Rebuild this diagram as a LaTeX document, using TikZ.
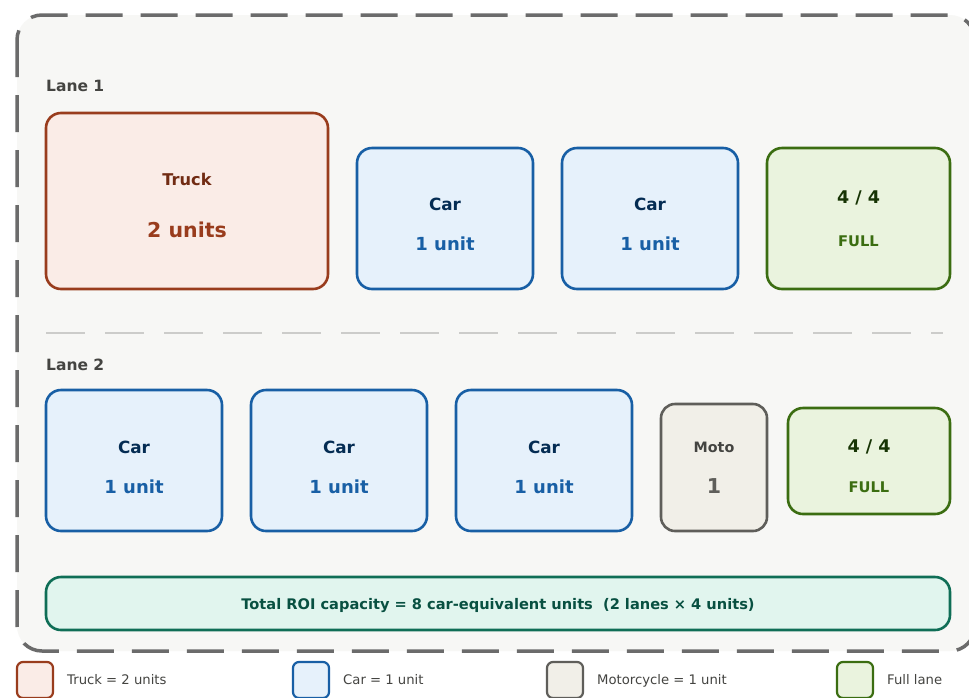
\documentclass[tikz,border=0pt]{standalone}
\usepackage{fontspec}
\setmainfont{DejaVu Sans}
\begin{document}
\begin{tikzpicture}[x=1pt,y=-1pt,
  box/.style={rectangle,rounded corners=15pt,line width=2.6pt,inner sep=0pt},
  truckbox/.style={box,draw=truckS,fill=truckF},
  carbox/.style={box,draw=carS,fill=carF},
  fullbox/.style={box,draw=fullS,fill=fullF},
  motobox/.style={box,draw=motoS,fill=motoF},
  totalbox/.style={box,draw=totS,fill=totF},
  keybox/.style={rectangle,rounded corners=6pt,line width=2.2pt,inner sep=0pt,minimum width=36pt,minimum height=36pt},
  txt/.style={anchor=base,inner sep=0pt,font=\bfseries},
  lanelbl/.style={anchor=base west,inner sep=0pt,font=\bfseries\fontsize{15.5}{18}\selectfont,text=laneT},
  keytxt/.style={anchor=base west,inner sep=0pt,font=\fontsize{13.2}{16}\selectfont,text=keyT}]
\definecolor{outerS}{HTML}{6B6B6B}\definecolor{outerF}{HTML}{F7F7F5}
\definecolor{truckS}{HTML}{993C1D}\definecolor{truckF}{HTML}{FAECE7}\definecolor{truckT}{HTML}{712B13}
\definecolor{carS}{HTML}{185FA5}\definecolor{carF}{HTML}{E6F1FB}\definecolor{carT}{HTML}{042C53}
\definecolor{fullS}{HTML}{3B6D11}\definecolor{fullF}{HTML}{EAF3DE}\definecolor{fullT}{HTML}{173404}
\definecolor{motoS}{HTML}{5F5E5A}\definecolor{motoF}{HTML}{F1EFE8}\definecolor{motoT}{HTML}{444441}
\definecolor{totS}{HTML}{0F6E56}\definecolor{totF}{HTML}{E1F5EE}\definecolor{totT}{HTML}{085041}
\definecolor{laneT}{HTML}{444441}\definecolor{sepC}{HTML}{CCCCCA}\definecolor{keyT}{HTML}{444441}

\useasboundingbox (0,0) rectangle (969,697);
\fill[white] (0,0) rectangle (969,697);

% region of interest frame
\draw[draw=outerS,fill=outerF,line width=3.5pt,rounded corners=25pt,dash pattern=on 37pt off 18pt]
  (17,15) rectangle (975,651);

% lane 1
\node[lanelbl] (l1) at (46,91) {Lane 1};
\node[truckbox,minimum width=282pt,minimum height=176pt] (tr) at (187,201) {};
\node[txt,text=truckT,font=\bfseries\fontsize{16.2}{19}\selectfont] (trA) at (187,185) {Truck};
\node[txt,text=truckS,font=\bfseries\fontsize{20.5}{24}\selectfont] (trB) at (187,237) {2 units};

\node[carbox,minimum width=176pt,minimum height=141pt] (c1) at (445,218.5) {};
\node[txt,text=carT,font=\bfseries\fontsize{16.8}{20}\selectfont] (c1A) at (445,210) {Car};
\node[txt,text=carS,font=\bfseries\fontsize{18}{21}\selectfont] (c1B) at (445,250) {1 unit};

\node[carbox,minimum width=176pt,minimum height=141pt] (c2) at (650,218.5) {};
\node[txt,text=carT,font=\bfseries\fontsize{16.8}{20}\selectfont] (c2A) at (650,210) {Car};
\node[txt,text=carS,font=\bfseries\fontsize{18}{21}\selectfont] (c2B) at (650,250) {1 unit};

\node[fullbox,minimum width=183pt,minimum height=141pt] (f1) at (858.5,218.5) {};
\node[txt,text=fullT,font=\bfseries\fontsize{17.5}{21}\selectfont] (f1A) at (858.5,203) {4 / 4};
\node[txt,text=fullS,font=\bfseries\fontsize{14.7}{18}\selectfont] (f1B) at (858.5,246) {FULL};

% lane divider
\coordinate (sepL) at (46,333);
\coordinate (sepR) at (943,333);
\draw[sepC,line width=2pt,dash pattern=on 39pt off 20pt] (sepL) -- (sepR);

% lane 2
\node[lanelbl] (l2) at (46,370) {Lane 2};
\node[carbox,minimum width=176pt,minimum height=141pt] (c3) at (134,460.5) {};
\node[txt,text=carT,font=\bfseries\fontsize{16.8}{20}\selectfont] (c3A) at (134,453) {Car};
\node[txt,text=carS,font=\bfseries\fontsize{18}{21}\selectfont] (c3B) at (134,493) {1 unit};

\node[carbox,minimum width=176pt,minimum height=141pt] (c4) at (339,460.5) {};
\node[txt,text=carT,font=\bfseries\fontsize{16.8}{20}\selectfont] (c4A) at (339,453) {Car};
\node[txt,text=carS,font=\bfseries\fontsize{18}{21}\selectfont] (c4B) at (339,493) {1 unit};

\node[carbox,minimum width=176pt,minimum height=141pt] (c5) at (544,460.5) {};
\node[txt,text=carT,font=\bfseries\fontsize{16.8}{20}\selectfont] (c5A) at (544,453) {Car};
\node[txt,text=carS,font=\bfseries\fontsize{18}{21}\selectfont] (c5B) at (544,493) {1 unit};

\node[motobox,rounded corners=14pt,minimum width=106pt,minimum height=127pt] (m1) at (714,467.5) {};
\node[txt,text=motoT,font=\bfseries\fontsize{14.3}{17}\selectfont] (m1A) at (714,452) {Moto};
\node[txt,text=motoS,font=\bfseries\fontsize{20.5}{24}\selectfont] (m1B) at (714,493) {1};

\node[fullbox,minimum width=162pt,minimum height=106pt] (f2) at (869,461) {};
\node[txt,text=fullT,font=\bfseries\fontsize{17.5}{21}\selectfont] (f2A) at (869,452) {4 / 4};
\node[txt,text=fullS,font=\bfseries\fontsize{14.7}{18}\selectfont] (f2B) at (869,492) {FULL};

% capacity summary
\node[totalbox,minimum width=904pt,minimum height=53pt] (tot) at (498,603.5) {};
\node[txt,text=totT,font=\bfseries\fontsize{14.6}{18}\selectfont] (totA) at (498,609)
  {Total ROI capacity = 8 car-equivalent units\ \ (2 lanes × 4 units)};

% key
\node[keybox,draw=truckS,fill=truckF] (k1) at (35,680) {};
\node[keytxt] (k1t) at (67,684) {Truck = 2 units};
\node[keybox,draw=carS,fill=carF] (k2) at (311,680) {};
\node[keytxt] (k2t) at (343,684) {Car = 1 unit};
\node[keybox,draw=motoS,fill=motoF] (k3) at (565,680) {};
\node[keytxt] (k3t) at (597,684) {Motorcycle = 1 unit};
\node[keybox,draw=fullS,fill=fullF] (k4) at (855,680) {};
\node[keytxt] (k4t) at (887,684) {Full lane};
\end{tikzpicture}
\end{document}
